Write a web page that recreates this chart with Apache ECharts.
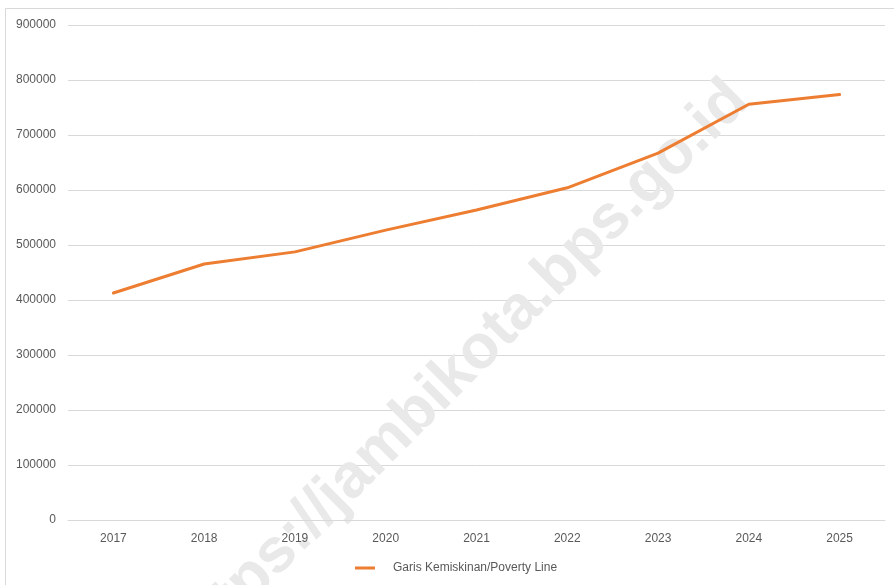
<!DOCTYPE html>
<html>
<head>
<meta charset="utf-8">
<script src="https://cdn.jsdelivr.net/npm/echarts@6/dist/echarts.min.js"></script>
<style>
  html, body { margin: 0; padding: 0; background: #fff; }
  #chart { width: 894px; height: 585px; }
</style>
</head>
<body>
<div id="chart"></div>
<script>
const years = ['2017', '2018', '2019', '2020', '2021', '2022', '2023', '2024', '2025'];
const povertyLine = [412700, 465500, 487500, 527000, 563500, 604000, 667000, 756000, 773500];
const seriesName = 'Garis Kemiskinan/Poverty Line';
const watermark = 'https://jambikota.bps.go.id';

const labelFont = "'Liberation Sans', sans-serif";
const chart = echarts.init(document.getElementById('chart'));

chart.setOption({
  animation: false,
  backgroundColor: '#fff',
  grid: { left: 68, right: 9, top: 25, bottom: 65 },
  graphic: [
    {
      type: 'rect',
      z: -10,
      silent: true,
      shape: { x: 5.5, y: 8.5, width: 1000, height: 700 },
      style: { fill: 'none', stroke: '#d9d9d9', lineWidth: 1 }
    },
    {
      type: 'text',
      z: 1,
      silent: true,
      x: 460,
      y: 370,
      rotation: 45 * Math.PI / 180,
      style: {
        text: watermark,
        font: "bold 62px 'Liberation Sans', Arial, sans-serif",
        fill: '#e9e9e9',
        align: 'center',
        verticalAlign: 'middle'
      }
    }
  ],
  legend: {
    bottom: 6,
    left: 350,
    z: 4,
    itemWidth: 20,
    itemHeight: 3,
    icon: 'rect',
    textStyle: { color: '#595959', fontSize: 12, fontFamily: labelFont, padding: [0, 0, 0, 13] },
    data: [seriesName]
  },
  xAxis: {
    type: 'category',
    z: 3,
    data: years,
    boundaryGap: true,
    axisLine: { lineStyle: { color: '#d9d9d9', width: 1 } },
    axisTick: { show: false },
    axisLabel: { color: '#595959', fontSize: 12, fontFamily: labelFont, margin: 13 }
  },
  yAxis: {
    type: 'value',
    min: 0,
    max: 900000,
    interval: 100000,
    axisLine: { show: false },
    axisTick: { show: false },
    axisLabel: {
      color: '#595959',
      fontSize: 12,
      fontFamily: labelFont,
      margin: 12,
      formatter: (value) => String(value)
    },
    splitLine: { lineStyle: { color: '#d9d9d9', width: 1 } }
  },
  series: [
    {
      name: seriesName,
      type: 'line',
      z: 5,
      data: povertyLine,
      showSymbol: false,
      symbol: 'none',
      smooth: false,
      color: '#ED7D31',
      lineStyle: { color: '#ED7D31', width: 3, cap: 'round', join: 'round' }
    }
  ]
});
</script>
</body>
</html>
